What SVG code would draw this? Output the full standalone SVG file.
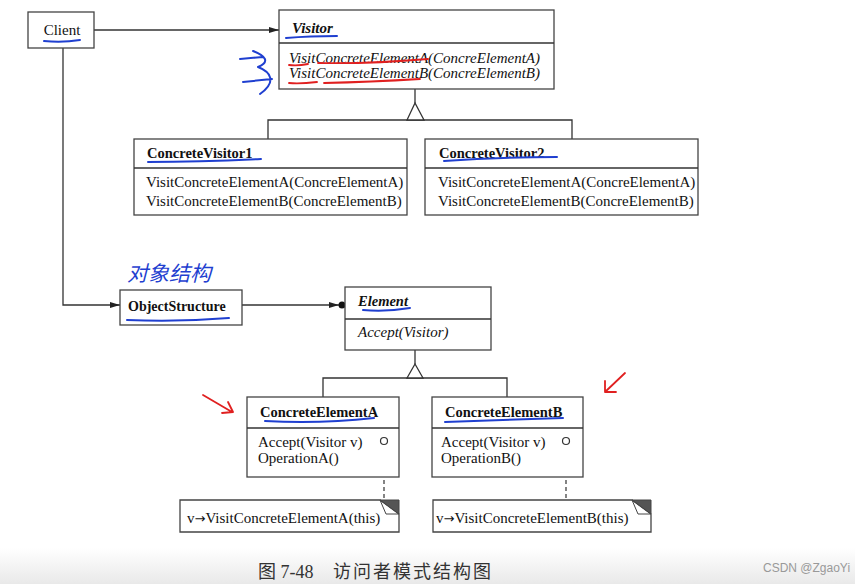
<svg xmlns="http://www.w3.org/2000/svg" width="855" height="584" viewBox="0 0 855 584">
<defs>
<style>
.box{fill:#fff;stroke:#444;stroke-width:1.3}
.ln{fill:none;stroke:#333;stroke-width:1.3}
.dash{fill:none;stroke:#333;stroke-width:1.2;stroke-dasharray:4 3}
.t{font-family:"Liberation Serif","Times New Roman",serif;font-size:15px;fill:#111}
.b{font-weight:bold;font-size:14.5px}
.i{font-style:italic}
.ar{font-family:"DejaVu Sans",sans-serif;font-size:13px}
.blue{fill:none;stroke:#1f3fd0;stroke-width:2;stroke-linecap:round;stroke-linejoin:round}
.red{fill:none;stroke:#e02020;stroke-width:1.8;stroke-linecap:round;stroke-linejoin:round}
</style>
<marker id="arr" markerWidth="10" markerHeight="8" refX="10" refY="4" orient="auto" markerUnits="userSpaceOnUse"><path d="M0,1 L10,4 L0,7 Z" fill="#222"/></marker>
<linearGradient id="bg" x1="0" y1="0" x2="0" y2="1"><stop offset="0" stop-color="#fff"/><stop offset="1" stop-color="#e9e9e9"/></linearGradient>
</defs>
<rect x="0" y="0" width="855" height="584" fill="#fff"/>
<rect x="0" y="548" width="855" height="36" fill="url(#bg)"/>

<g id="connectors">
<path class="ln" d="M94,30 H279" marker-end="url(#arr)"/>
<path class="ln" d="M63,48 V305 H120" marker-end="url(#arr)"/>
<path class="ln" d="M242,305 H339" marker-end="url(#arr)"/>
<circle cx="342" cy="305" r="3.5" fill="#111"/>
<path class="ln" d="M415,89 V103"/>
<path class="ln" d="M268,139 V120 H572 V139"/>
<polygon class="ln" points="415,103 407,120 424,120" style="fill:#fff"/>
<path class="ln" d="M415,350 V364"/>
<path class="ln" d="M323,397 V378 H507 V397"/>
<polygon class="ln" points="415,364 407,378 423,378" style="fill:#fff"/>
<path class="dash" d="M384,445 V500"/>
<path class="dash" d="M566,445 V500"/>
</g>

<g id="client">
<rect class="box" x="28" y="12" width="66" height="36"/>
<text class="t" x="62" y="35" text-anchor="middle">Client</text>
</g>

<g id="visitor">
<rect class="box" x="279" y="10" width="275" height="79"/>
<line class="ln" x1="279" y1="43" x2="554" y2="43"/>
<text class="t b i" x="292" y="33" style="font-size:15px">Visitor</text>
<text class="t i" x="289" y="63">VisitConcreteElementA(ConcreElementA)</text>
<text class="t i" x="289" y="78">VisitConcreteElementB(ConcreElementB)</text>
</g>

<g id="concreteVisitor1">
<rect class="box" x="134" y="139" width="273" height="76"/>
<line class="ln" x1="134" y1="168" x2="407" y2="168"/>
<text class="t b" x="147" y="158">ConcreteVisitor1</text>
<text class="t" x="146" y="187">VisitConcreteElementA(ConcreElementA)</text>
<text class="t" x="146" y="206">VisitConcreteElementB(ConcreElementB)</text>
</g>

<g id="concreteVisitor2">
<rect class="box" x="425" y="139" width="273" height="76"/>
<line class="ln" x1="425" y1="168" x2="698" y2="168"/>
<text class="t b" x="439" y="158">ConcreteVisitor2</text>
<text class="t" x="438" y="187">VisitConcreteElementA(ConcreElementA)</text>
<text class="t" x="438" y="206">VisitConcreteElementB(ConcreElementB)</text>
</g>

<g id="objectStructure">
<rect class="box" x="120" y="290" width="122" height="35"/>
<text class="t b" x="128" y="311" style="font-size:14px">ObjectStructure</text>
</g>

<g id="element">
<rect class="box" x="345" y="287" width="146" height="63"/>
<line class="ln" x1="345" y1="319" x2="491" y2="319"/>
<text class="t b i" x="358" y="306">Element</text>
<text class="t i" x="358" y="337">Accept(Visitor)</text>
</g>

<g id="concreteElementA">
<rect class="box" x="247" y="397" width="152" height="80"/>
<line class="ln" x1="247" y1="428" x2="399" y2="428"/>
<text class="t b" x="260" y="417">ConcreteElementA</text>
<text class="t" x="258" y="447">Accept(Visitor v)</text>
<text class="t" x="258" y="463">OperationA()</text>
<circle cx="384" cy="441" r="3.5" fill="#fff" stroke="#333" stroke-width="1.2"/>
</g>

<g id="concreteElementB">
<rect class="box" x="432" y="397" width="151" height="80"/>
<line class="ln" x1="432" y1="428" x2="583" y2="428"/>
<text class="t b" x="445" y="417">ConcreteElementB</text>
<text class="t" x="441" y="447">Accept(Visitor v)</text>
<text class="t" x="441" y="463">OperationB()</text>
<circle cx="566" cy="441" r="3.5" fill="#fff" stroke="#333" stroke-width="1.2"/>
</g>

<g id="noteA">
<path class="box" d="M180,500 H380 L399,514 V532 H180 Z"/>
<path d="M380,500 H399 V514 Z" fill="#555" stroke="#444" stroke-width="1"/>
<path d="M380,500 L386,514 H399" fill="none" stroke="#444" stroke-width="1"/>
<text class="t" x="187" y="523">v<tspan class="ar">→</tspan>VisitConcreteElementA(this)</text>
</g>

<g id="noteB">
<path class="box" d="M433,500 H632 L651,514 V532 H433 Z"/>
<path d="M632,500 H651 V514 Z" fill="#555" stroke="#444" stroke-width="1"/>
<path d="M632,500 L638,514 H651" fill="none" stroke="#444" stroke-width="1"/>
<text class="t" x="436" y="523">v<tspan class="ar">→</tspan>VisitConcreteElementB(this)</text>
</g>

<g id="annotations">
<path class="blue" d="M44,41 Q62,43 80,40"/>
<path class="blue" d="M286,38 Q310,36 337,36"/>
<path class="blue" d="M148,162 Q200,162 261,159"/>
<path class="blue" d="M444,161 Q500,157 557,157"/>
<path class="blue" d="M127,320 Q180,322 229,318"/>
<path class="blue" d="M363,310 Q386,312 410,308"/>
<path class="blue" d="M265,421 Q320,424 374,418"/>
<path class="blue" d="M445,422 Q505,420 563,418"/>
<path class="blue" d="M240,59 L263,57 M253,51 C266,56 270,62 258,67 C271,72 277,82 260,94 M243,82 L272,79"/>
<path class="red" d="M289,65 Q298,66 308,64 M318,63 Q370,64 428,59 M289,83 Q300,84 317,82 M324,83 Q370,82 420,79"/>
<path class="red" d="M203,395 L232,412 M222,413 L233,412 L228,402"/>
<path class="red" d="M625,373 L605,392 M605,381 L605,392 L616,392"/>
<text x="127" y="281" style="font-family:'Noto Sans CJK SC',sans-serif;font-size:21px;fill:#1f3fd0;font-style:italic">对象结构</text>
</g>

<g id="caption">
<text x="258" y="578" style="font-family:'Liberation Serif','Noto Sans CJK SC',serif;font-size:18px;fill:#333">图 7-48</text>
<text x="333" y="578" style="font-family:'Noto Sans CJK SC',sans-serif;font-size:18px;fill:#333;letter-spacing:2px">访问者模式结构图</text>
<text x="763" y="572" style="font-family:'Liberation Sans',Arial,sans-serif;font-size:12px;fill:#999">CSDN @ZgaoYi</text>
</g>
</svg>
